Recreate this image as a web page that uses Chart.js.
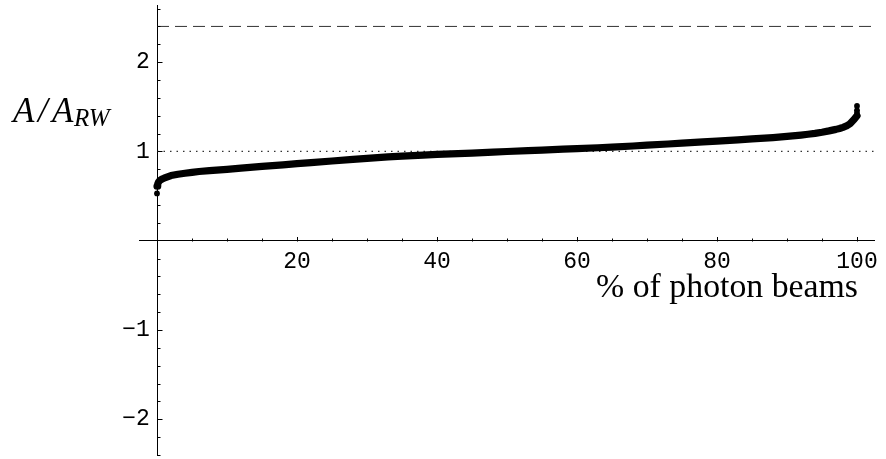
<!DOCTYPE html>
<html>
<head>
<meta charset="utf-8">
<script src="https://cdn.jsdelivr.net/npm/chart.js@4.4.1/dist/chart.umd.min.js"></script>
<style>
  html, body { margin: 0; padding: 0; background: #fff; }
  #wrap { width: 886px; height: 459px; }
</style>
</head>
<body>
<div id="wrap"><canvas id="c" width="886" height="459"></canvas></div>
<script>
// ---- data ----
const curveX = [0, 0.1, 0.2, 0.4, 0.7, 1, 1.5, 2, 3, 4, 5, 6, 7.5, 10, 12, 15, 18, 20, 22, 25, 28, 30, 33, 35, 38, 40, 43, 45, 48, 50, 53, 55, 58, 60, 63, 65, 68, 70, 73, 75, 78, 80, 83, 85, 88, 90, 92, 93, 94, 95, 96, 97, 97.5, 98, 98.5, 99, 99.3, 99.6, 99.8, 100];
const curveY = [0.61, 0.635, 0.655, 0.675, 0.69, 0.70, 0.715, 0.73, 0.745, 0.755, 0.765, 0.775, 0.785, 0.80, 0.812, 0.832, 0.85, 0.863, 0.875, 0.893, 0.91, 0.922, 0.938, 0.948, 0.958, 0.966, 0.976, 0.982, 0.992, 0.999, 1.008, 1.015, 1.025, 1.031, 1.041, 1.049, 1.061, 1.07, 1.083, 1.093, 1.106, 1.116, 1.13, 1.14, 1.155, 1.168, 1.183, 1.192, 1.202, 1.215, 1.23, 1.247, 1.257, 1.27, 1.285, 1.31, 1.335, 1.36, 1.38, 1.40];
const endDotsX = [0, 100, 100, 100];
const endDotsY = [0.53, 1.43, 1.46, 1.51];
const refLineX = [0, 102.5];
const dashedLevel = 2.4;
const dottedLevel = 1;

const xTicks = [5, 10, 15, 20, 25, 30, 35, 40, 45, 50, 55, 60, 65, 70, 75, 80, 85, 90, 95, 100];
const xTickLabels = [20, 40, 60, 80, 100];
const yTicks = [-2.4, -2.2, -2, -1.8, -1.6, -1.4, -1.2, -1, -0.8, -0.6, -0.4, -0.2, 0.2, 0.4, 0.6, 0.8, 1, 1.2, 1.4, 1.6, 1.8, 2, 2.2, 2.4, 2.6];
const yTickLabels = [-2, -1, 1, 2];
const xTitle = '% of photon beams';
const yTitleMain = 'A/A';
const yTitleSub = 'RW';

const X_MIN = -2.5, X_MAX = 102.5, Y_MIN = -2.4, Y_MAX = 2.64;

// ---- build datasets ----
const toPts = (xs, ys) => xs.map((x, i) => ({ x, y: ys[i] }));
const monoFont = { family: '"Liberation Mono", "DejaVu Sans Mono", monospace', size: 23 };
const fmt = v => (v < 0 ? '\u2212' + Math.abs(v) : String(v));

const decor = {
  id: 'decor',
  afterDraw(chart) {
    const ctx = chart.ctx;
    const xs = chart.scales.x, ys = chart.scales.y;
    const x0 = Math.round(xs.getPixelForValue(0)) + 0.5;
    const y0 = Math.round(ys.getPixelForValue(0)) + 0.5;
    ctx.save();
    ctx.strokeStyle = '#000';
    ctx.lineWidth = 1;
    xs.ticks.forEach(t => {
      const major = xTickLabels.includes(t.value);
      const px = Math.round(xs.getPixelForValue(t.value)) + 0.5;
      ctx.beginPath();
      ctx.moveTo(px, y0);
      ctx.lineTo(px, y0 - (major ? 4.5 : 3));
      ctx.stroke();
    });
    ys.ticks.forEach(t => {
      const major = yTickLabels.some(v => Math.abs(v - t.value) < 1e-9);
      const py = Math.round(ys.getPixelForValue(t.value)) + 0.5;
      ctx.beginPath();
      ctx.moveTo(x0, py);
      ctx.lineTo(x0 + (major ? 5 : 3), py);
      ctx.stroke();
    });
    // axis titles
    ctx.fillStyle = '#000';
    ctx.textBaseline = 'alphabetic';
    let base = 34;
    ctx.font = base + 'px "Liberation Serif", serif';
    const w = ctx.measureText(xTitle).width;
    const size = base * 262 / w;
    ctx.font = size + 'px "Liberation Serif", serif';
    ctx.textAlign = 'right';
    ctx.fillText(xTitle, 858, 297);

    ctx.textAlign = 'left';
    ctx.font = 'italic 35px "Liberation Serif", serif';
    ctx.fillText(yTitleMain.charAt(0), 13, 122);
    ctx.fillText(yTitleMain.charAt(1), 38, 122);
    ctx.fillText(yTitleMain.charAt(2), 52, 122);
    ctx.font = 'italic 25px "Liberation Serif", serif';
    ctx.fillText(yTitleSub, 74, 126);
    ctx.restore();
  }
};

new Chart(document.getElementById('c'), {
  type: 'scatter',
  data: {
    datasets: [
      {
        data: toPts(refLineX, refLineX.map(() => dashedLevel)),
        showLine: true, borderColor: '#333', borderWidth: 1, borderDash: [12, 6],
        pointRadius: 0, order: 3
      },
      {
        data: toPts(refLineX, refLineX.map(() => dottedLevel)),
        showLine: true, borderColor: '#333', borderWidth: 1.3, borderDash: [1.5, 5],
        pointRadius: 0, order: 2
      },
      {
        data: toPts(curveX, curveY),
        showLine: true, borderColor: '#000', borderWidth: 7.2,
        borderCapStyle: 'round', borderJoinStyle: 'round', tension: 0,
        pointRadius: 0, order: 1
      },
      {
        data: toPts(endDotsX, endDotsY),
        showLine: false, pointRadius: 2.9, pointBackgroundColor: '#000',
        pointBorderWidth: 0, order: 0
      }
    ]
  },
  options: {
    responsive: false,
    devicePixelRatio: 1,
    animation: false,
    events: [],
    layout: { padding: { left: 139.5, right: 11.5, top: 5, bottom: 1 } },
    plugins: { legend: { display: false }, tooltip: { enabled: false }, title: { display: false } },
    scales: {
      x: {
        type: 'linear', min: X_MIN, max: X_MAX,
        position: { y: 0 },
        afterFit: s => { s.height = 0; },
        afterBuildTicks: s => { s.ticks = xTicks.map(v => ({ value: v })); },
        grid: { display: false, drawTicks: true, tickLength: 4 },
        border: { display: true, color: '#000', width: 1 },
        ticks: {
          autoSkip: false, maxRotation: 0, color: '#000', font: monoFont,
          callback: v => (xTickLabels.includes(v) ? String(v) : '')
        }
      },
      y: {
        type: 'linear', min: Y_MIN, max: Y_MAX,
        position: { x: 0 },
        afterFit: s => { s.width = 0; },
        afterBuildTicks: s => { s.ticks = yTicks.map(v => ({ value: v })); },
        grid: { display: false, drawTicks: false },
        border: { display: true, color: '#000', width: 1 },
        ticks: { display: false }
      },
      yLabels: {
        type: 'linear', min: Y_MIN, max: Y_MAX,
        position: 'left',
        afterFit: s => { s.width = 0; },
        afterBuildTicks: s => { s.ticks = yTickLabels.map(v => ({ value: v })); },
        grid: { display: false, drawTicks: false },
        border: { display: false },
        ticks: {
          autoSkip: false, color: '#000', font: monoFont,
          mirror: true, crossAlign: 'far', padding: -17.3,
          callback: v => fmt(v)
        }
      }
    }
  },
  plugins: [decor]
});
</script>
</body>
</html>
